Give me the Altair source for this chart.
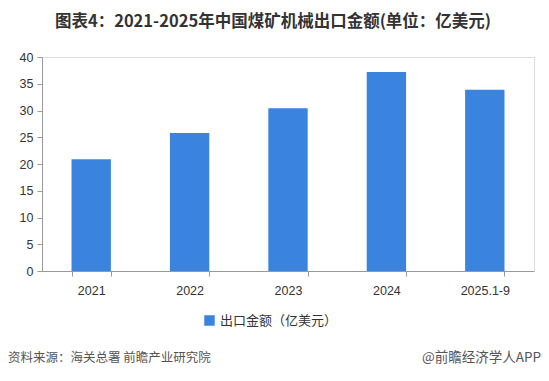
import altair as alt
import pandas as pd

years = ["2021", "2022", "2023", "2024", "2025.1-9"]
values = [20.9, 25.8, 30.4, 37.2, 33.9]
series_name = "出口金额（亿美元）"
title_text = "图表4：2021-2025年中国煤矿机械出口金额(单位：亿美元)"
source_text = "资料来源：海关总署 前瞻产业研究院"
credit_text = "@前瞻经济学人APP"

df = pd.DataFrame({"year": years, "value": values, "series": [series_name] * len(years)})

FONT = "Noto Sans CJK SC"
W, H = 492, 214

bars = alt.Chart(df).mark_bar(color="#3A84E0").encode(
    x=alt.X("year:N", sort=years, title=None,
            scale=alt.Scale(paddingInner=0.6, paddingOuter=0.3),
            axis=alt.Axis(tickBand="extent", labelAngle=0, labelFontSize=12.5, labelColor="#333",
                          labelFont="Liberation Sans", labelPadding=8,
                          domainColor="#999", tickColor="#999", tickSize=5)),
    y=alt.Y("value:Q", title=None,
            scale=alt.Scale(domain=[0, 40]),
            axis=alt.Axis(values=[0, 5, 10, 15, 20, 25, 30, 35, 40], grid=False,
                          labelFontSize=12.5, labelColor="#333", labelFont="Liberation Sans",
                          domainColor="#999", tickColor="#999", tickSize=5, labelPadding=4)),
    color=alt.Color("series:N", scale=alt.Scale(range=["#3A84E0"]),
                    legend=alt.Legend(title=None, orient="none", legendX=161, legendY=257,
                                      symbolType="square", symbolSize=110,
                                      labelFontSize=13, labelColor="#333", labelFont=FONT)),
)

src_df = pd.DataFrame({"t": [source_text]})
footer_left = alt.Chart(src_df).mark_text(align="left", baseline="alphabetic", fontSize=12.5,
                                          color="#555", font=FONT).encode(
    text="t:N", x=alt.value(-34), y=alt.value(305))
cred_df = pd.DataFrame({"t": [credit_text]})
footer_right = alt.Chart(cred_df).mark_text(align="right", baseline="alphabetic", fontSize=13.5,
                                            color="#555", font=FONT).encode(
    text="t:N", x=alt.value(499), y=alt.value(305))
ttl_df = pd.DataFrame({"t": [title_text]})
title_mark = alt.Chart(ttl_df).mark_text(align="center", baseline="alphabetic", fontSize=16.5,
                                         fontWeight="bold", color="#333", font=FONT).encode(
    text="t:N", x=alt.value(231), y=alt.value(-30))

chart = alt.layer(bars, footer_left, footer_right, title_mark).properties(
    width=W, height=H,
    autosize=alt.AutoSizeParams(type="none"),
    padding={"left": 34, "top": 49, "right": 7, "bottom": 102},
).configure_view(stroke=None).configure(background="white")

chart.save("out.html", embed_options={"renderer": "svg", "actions": False})
